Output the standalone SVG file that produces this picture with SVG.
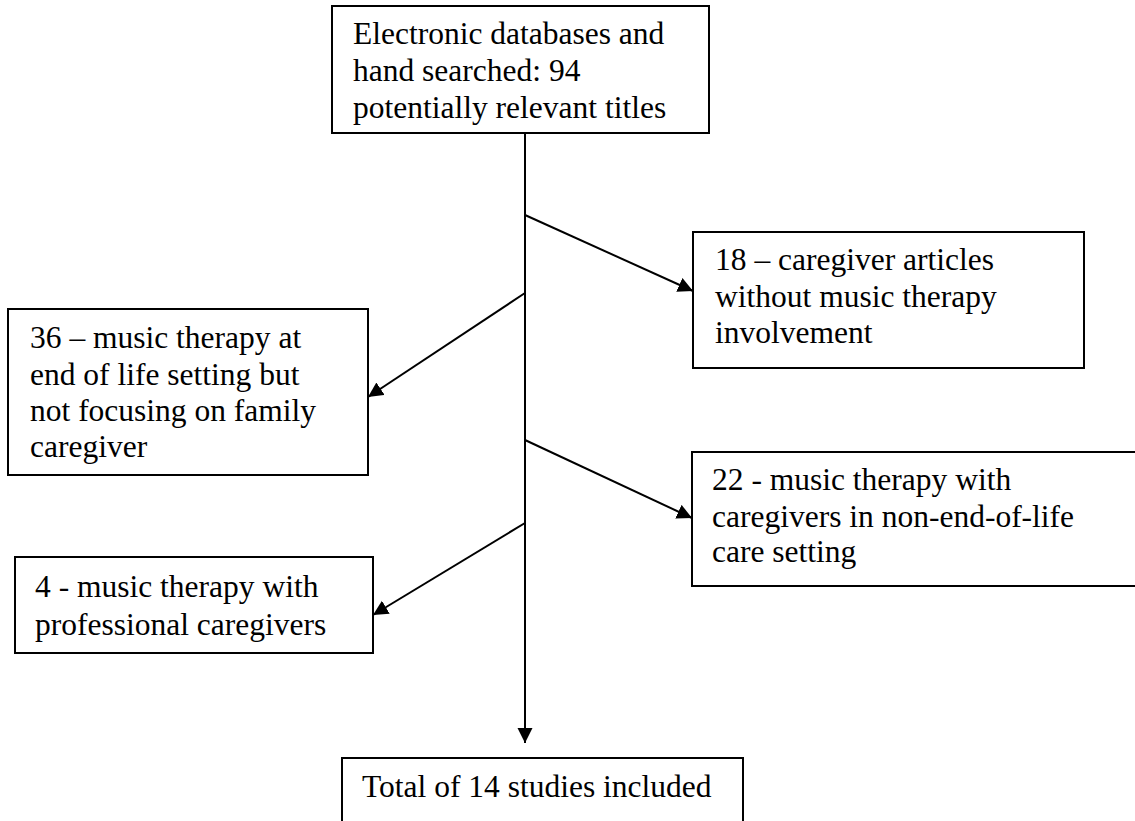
<svg xmlns="http://www.w3.org/2000/svg" width="1135" height="821" viewBox="0 0 1135 821">
<defs>
<marker id="arr" markerUnits="userSpaceOnUse" markerWidth="16" markerHeight="16" refX="15" refY="7.5" orient="auto">
<path d="M0,0 L15,7.5 L0,15 z" fill="#000"/>
</marker>
<style>
.box{fill:#fff;stroke:#000;stroke-width:2}
.t{font-family:"Liberation Serif","Times New Roman",serif;font-size:31.5px;fill:#000}
.c{stroke:#000;stroke-width:2;fill:none;marker-end:url(#arr)}
</style>
</defs>
<rect width="1135" height="821" fill="#fff"/>
<g id="connectors">
<line class="c" x1="525" y1="133" x2="525" y2="743"/>
<line class="c" x1="525" y1="215" x2="693" y2="291"/>
<line class="c" x1="525" y1="293" x2="368" y2="397"/>
<line class="c" x1="525" y1="440" x2="692" y2="518"/>
<line class="c" x1="525" y1="523" x2="373" y2="615"/>
</g>
<g id="n-start">
<rect class="box" x="332" y="6" width="377" height="127"/>
<text class="t" x="353" y="44">Electronic databases and</text>
<text class="t" x="353" y="81">hand searched: 94</text>
<text class="t" x="353" y="118">potentially relevant titles</text>
</g>
<g id="n-18">
<rect class="box" x="693" y="232" width="391" height="136"/>
<text class="t" x="715" y="270">18 – caregiver articles</text>
<text class="t" x="715" y="307">without music therapy</text>
<text class="t" x="715" y="343">involvement</text>
</g>
<g id="n-36">
<rect class="box" x="8" y="309" width="360" height="166"/>
<text class="t" x="30" y="348">36 – music therapy at</text>
<text class="t" x="30" y="385">end of life setting but</text>
<text class="t" x="30" y="421">not focusing on family</text>
<text class="t" x="30" y="457">caregiver</text>
</g>
<g id="n-22">
<rect class="box" x="692" y="452" width="450" height="134"/>
<text class="t" x="712" y="490">22 - music therapy with</text>
<text class="t" x="712" y="527">caregivers in non-end-of-life</text>
<text class="t" x="712" y="562">care setting</text>
</g>
<g id="n-4">
<rect class="box" x="15" y="557" width="358" height="96"/>
<text class="t" x="35" y="597">4 - music therapy with</text>
<text class="t" x="35" y="635">professional caregivers</text>
</g>
<g id="n-total">
<rect class="box" x="342" y="758" width="401" height="80"/>
<text class="t" x="362" y="797">Total of 14 studies included</text>
</g>
</svg>
